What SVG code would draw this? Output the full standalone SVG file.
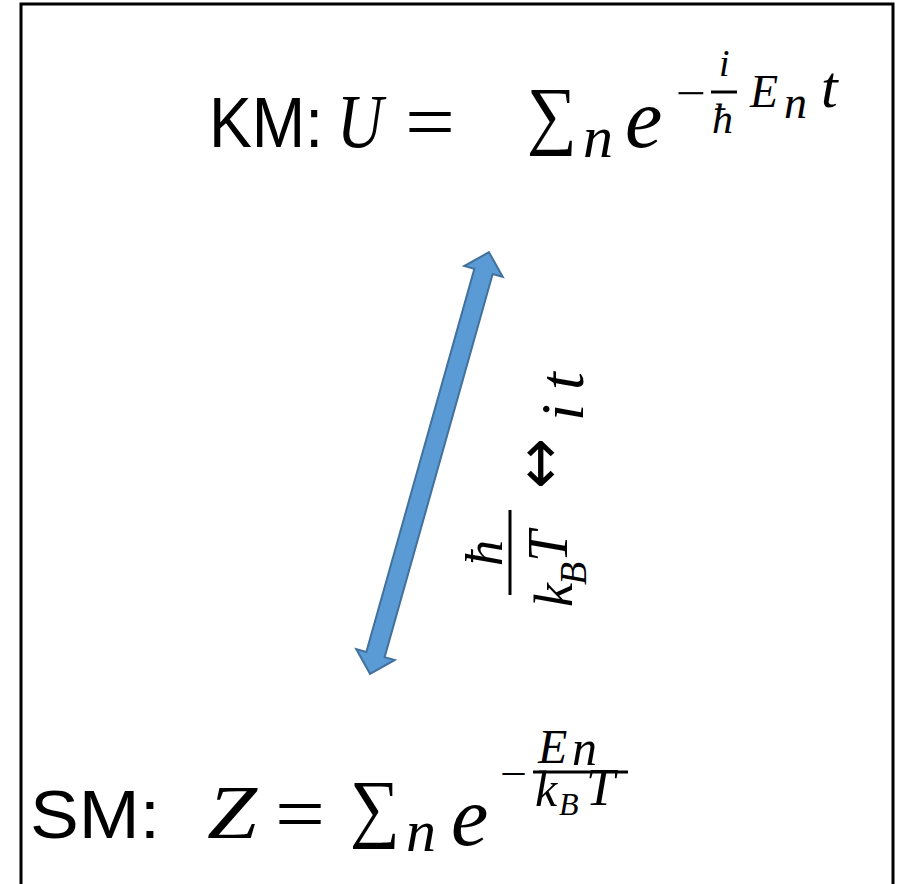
<svg xmlns="http://www.w3.org/2000/svg" width="902" height="884" viewBox="0 0 902 884">
<style>
.lbl{font-family:"Liberation Sans","Open Sans",sans-serif;fill:#000}
.m{font-family:"Liberation Serif","DejaVu Serif",serif;font-style:italic;fill:#000}
.u{font-family:"Liberation Serif","DejaVu Serif",serif;fill:#000}
.ar{font-family:"DejaVu Sans",sans-serif;fill:#000}
.bar{stroke:#000;stroke-width:3}
</style>
<rect x="21" y="4" width="872" height="920" fill="#fff" stroke="#000" stroke-width="3"/>
<g id="km">
<text class="lbl" x="209" y="147" font-size="70" textLength="114" lengthAdjust="spacingAndGlyphs">KM:</text>
<text class="m" x="337" y="147" font-size="76" textLength="46" lengthAdjust="spacingAndGlyphs">U</text>
<text class="u" x="405" y="148" font-size="78" textLength="50" lengthAdjust="spacingAndGlyphs">=</text>
<text class="u" x="527" y="140" font-size="76" textLength="50" lengthAdjust="spacingAndGlyphs">∑</text>
<text class="m" x="583" y="157" font-size="60">n</text>
<text class="m" x="625" y="147" font-size="84">e</text>
<text class="u" x="676" y="108" font-size="44" textLength="30" lengthAdjust="spacingAndGlyphs">−</text>
<text class="m" x="719" y="76" font-size="38">i</text>
<line class="bar" x1="711" y1="92" x2="737" y2="92"/>
<text class="m" x="712" y="133" font-size="42">ħ</text>
<text class="m" x="750" y="107" font-size="46">E</text>
<text class="m" x="784" y="118" font-size="46">n</text>
<text class="m" x="821" y="107" font-size="60">t</text>
</g>
<g id="sm">
<text class="lbl" x="30" y="838" font-size="68" textLength="130" lengthAdjust="spacingAndGlyphs">SM:</text>
<text class="m" x="207" y="838" font-size="76" textLength="50" lengthAdjust="spacingAndGlyphs">Z</text>
<text class="u" x="275" y="840" font-size="78" textLength="50" lengthAdjust="spacingAndGlyphs">=</text>
<text class="u" x="350" y="833" font-size="76" textLength="50" lengthAdjust="spacingAndGlyphs">∑</text>
<text class="m" x="406" y="851" font-size="60">n</text>
<text class="m" x="451" y="845" font-size="84">e</text>
<text class="u" x="500" y="787" font-size="40" textLength="27" lengthAdjust="spacingAndGlyphs">−</text>
<text class="m" x="538" y="763" font-size="48">E</text>
<text class="m" x="572" y="765" font-size="50">n</text>
<line class="bar" x1="533" y1="772" x2="628" y2="772"/>
<text class="m" x="535" y="806" font-size="50">k</text>
<text class="m" x="559" y="815" font-size="32">B</text>
<text class="m" x="586" y="805" font-size="52">T</text>
</g>
<g id="connectors">
<polygon points="0,-219 20,-199 9.5,-199 9.5,199 20,199 0,219 -20,199 -9.5,199 -9.5,-199 -20,-199" transform="translate(429.5,463) rotate(15.75)" fill="#5B9BD5" stroke="#41719C" stroke-width="2" stroke-linejoin="miter"/>
</g>
<g id="label" transform="rotate(-90)">
<text class="m" x="-566" y="502" font-size="52">ħ</text>
<line class="bar" x1="-595" y1="510" x2="-510" y2="510"/>
<text class="m" x="-607" y="572" font-size="54">k</text>
<text class="m" x="-585" y="586" font-size="38">B</text>
<text class="m" x="-562" y="567" font-size="56">T</text>
<text class="ar" x="-489" y="561" font-size="64" textLength="51" lengthAdjust="spacingAndGlyphs">↔</text>
<text class="m" x="-421" y="583" font-size="62">i</text>
<text class="m" x="-390" y="583" font-size="64">t</text>
</g>
</svg>
